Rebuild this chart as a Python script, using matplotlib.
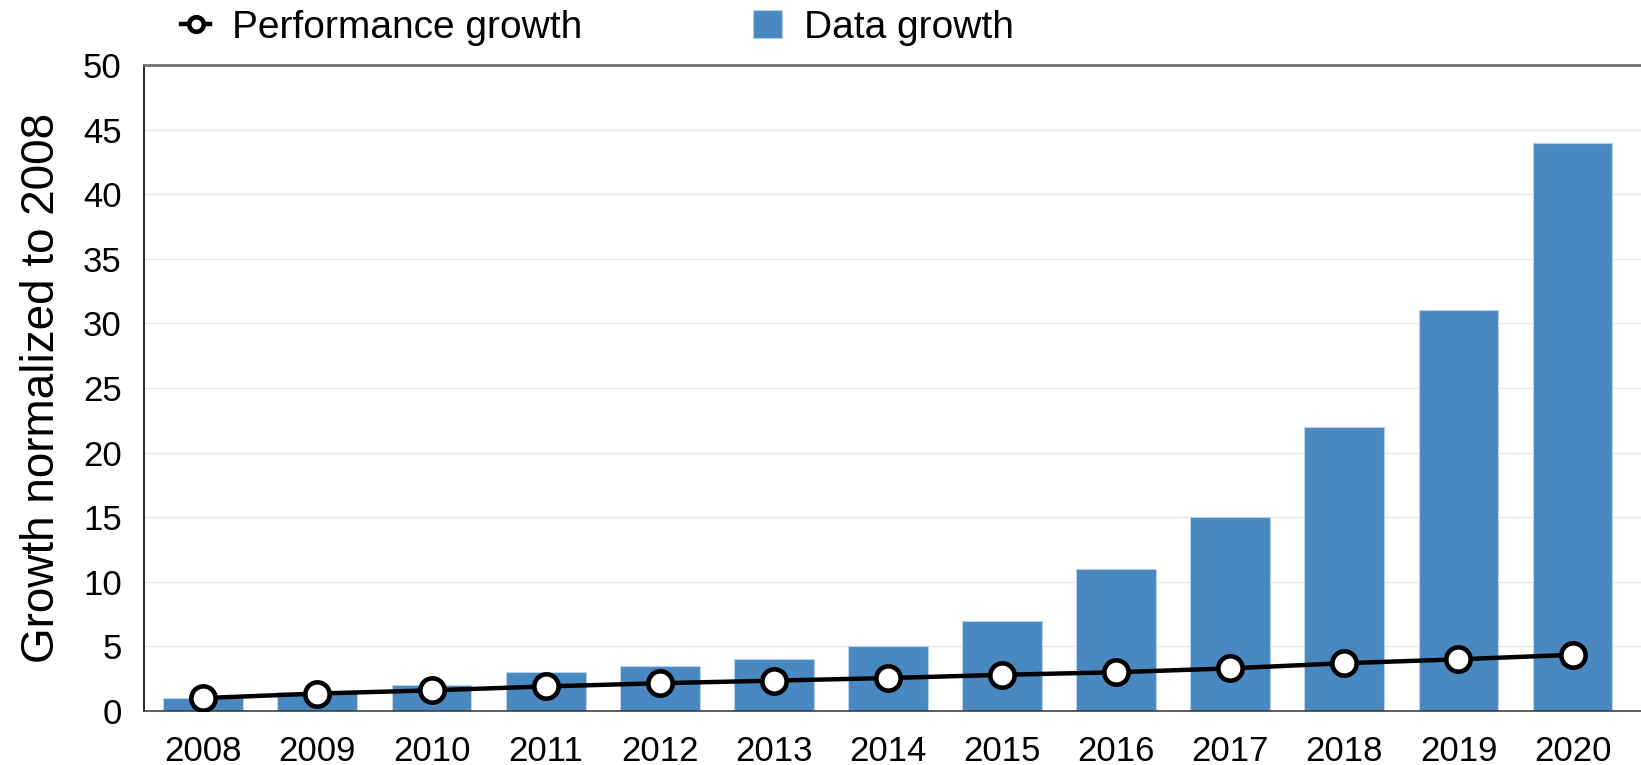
import matplotlib.pyplot as plt
import numpy as np

plt.rcParams['font.family'] = ['Liberation Sans', 'DejaVu Sans']

years = ['2008', '2009', '2010', '2011', '2012', '2013', '2014',
         '2015', '2016', '2017', '2018', '2019', '2020']
data_growth = [1, 1.5, 2, 3, 3.5, 4, 5, 7, 11, 15, 22, 31, 44]
perf_growth = [1.0, 1.35, 1.6, 1.9, 2.15, 2.35, 2.55, 2.8, 3.0, 3.3, 3.7, 4.0, 4.35]
y_ticks = [0, 5, 10, 15, 20, 25, 30, 35, 40, 45, 50]

x = np.arange(len(years))

fig = plt.figure(figsize=(16.41, 7.65), dpi=100)
ax = fig.add_axes([144 / 1641, 1 - 711 / 765, 1 - 144 / 1641, (711 - 65) / 765])

bars = ax.bar(x, data_growth, width=0.7, color='#4a88c2', edgecolor='#b8d0ea',
              linewidth=0.8, label='Data growth', zorder=2)
line, = ax.plot(x, perf_growth, color='black', lw=3.2, marker='o', markersize=17.5,
                markerfacecolor='white', markeredgecolor='black', markeredgewidth=3.3,
                label='Performance growth', zorder=3)

ax.set_xlim(-0.52, 12.6)
ax.set_ylim(0, 50)
ax.set_yticks(y_ticks)
ax.set_xticks(x)
ax.set_xticklabels(years)
ax.tick_params(axis='both', length=0, labelsize=25)
ax.tick_params(axis='x', pad=17)
ax.tick_params(axis='y', pad=16)
ax.set_ylabel('Growth normalized to 2008', fontsize=33, labelpad=14)

ax.grid(axis='y', color='#e8e8e8', lw=1, zorder=0)
ax.set_axisbelow(True)
ax.spines['right'].set_visible(False)
ax.spines['top'].set_color('#707070')
ax.spines['top'].set_linewidth(2)
ax.spines['left'].set_color('black')
ax.spines['bottom'].set_color('#404040')
ax.spines['left'].set_linewidth(1.2)
ax.spines['bottom'].set_linewidth(1.2)

fig.legend([line, bars], ['Performance growth', 'Data growth'], loc='center left',
           bbox_to_anchor=(0.089, 0.964), ncol=2, frameon=False, fontsize=28,
           handlelength=0.75, columnspacing=4.4, handletextpad=0.55, markerscale=0.6)

fig.savefig('out.png', dpi=100)
